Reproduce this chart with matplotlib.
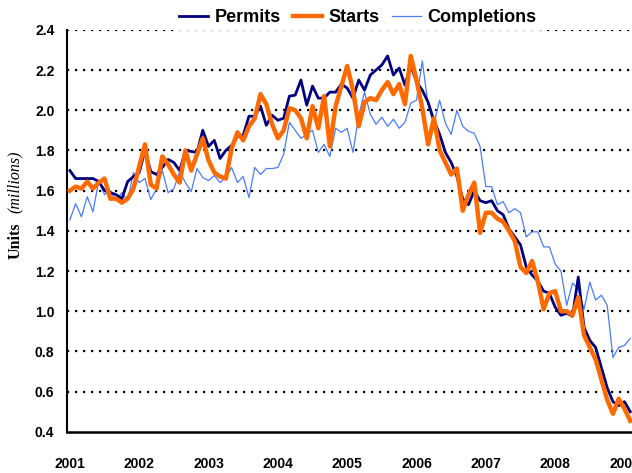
import matplotlib
matplotlib.use('Agg')
import matplotlib.pyplot as plt
import numpy as np

# monthly, Jan 2001 .. Feb 2009 (millions of units, SAAR)
permits = [1.70, 1.66, 1.66, 1.66, 1.66, 1.645, 1.60, 1.59, 1.58, 1.56, 1.645, 1.67,
           1.69, 1.80, 1.695, 1.68, 1.715, 1.755, 1.74, 1.70, 1.80, 1.795, 1.79, 1.90,
           1.82, 1.85, 1.76, 1.80, 1.825, 1.87, 1.875, 1.97, 1.97, 2.02, 1.925, 1.975,
           1.95, 1.96, 2.07, 2.075, 2.15, 2.025, 2.12, 2.06, 2.06, 2.09, 2.09, 2.13,
           2.11, 2.06, 2.15, 2.10, 2.175, 2.20, 2.225, 2.27, 2.175, 2.21, 2.125, 2.225,
           2.14, 2.10, 2.04, 1.95, 1.88, 1.79, 1.74, 1.67, 1.56, 1.53, 1.60, 1.55,
           1.54, 1.55, 1.50, 1.48, 1.41, 1.37, 1.33, 1.22, 1.18, 1.15, 1.10, 1.09,
           1.02, 0.98, 0.99, 0.975, 1.17, 0.92, 0.855, 0.82, 0.72, 0.62, 0.55, 0.53, 0.55, 0.50]

starts = [1.60, 1.62, 1.61, 1.645, 1.61, 1.64, 1.66, 1.56, 1.56, 1.54, 1.56, 1.61,
          1.72, 1.83, 1.63, 1.61, 1.77, 1.73, 1.68, 1.64, 1.80, 1.70, 1.78, 1.86,
          1.75, 1.69, 1.67, 1.66, 1.81, 1.89, 1.85, 1.92, 1.96, 2.08, 2.03, 1.93,
          1.86, 1.90, 2.01, 2.00, 1.96, 1.86, 2.02, 1.91, 2.07, 1.82, 2.02, 2.12,
          2.22, 2.10, 1.92, 2.04, 2.06, 2.05, 2.10, 2.14, 2.08, 2.13, 2.03, 2.27,
          2.15, 2.01, 1.83, 1.96, 1.80, 1.74, 1.68, 1.71, 1.50, 1.58, 1.64, 1.39,
          1.49, 1.49, 1.46, 1.445, 1.40, 1.35, 1.22, 1.19, 1.25, 1.15, 1.01, 1.09,
          1.10, 1.00, 1.00, 0.98, 1.07, 0.88, 0.82, 0.76, 0.66, 0.56, 0.49, 0.565, 0.515, 0.455]

completions = [1.455, 1.535, 1.47, 1.57, 1.495, 1.65, 1.58, 1.60, 1.55, 1.59, 1.55, 1.69,
               1.64, 1.66, 1.555, 1.61, 1.70, 1.59, 1.61, 1.695, 1.64, 1.595, 1.71, 1.665,
               1.65, 1.675, 1.64, 1.665, 1.715, 1.64, 1.67, 1.565, 1.715, 1.68, 1.71, 1.71,
               1.715, 1.78, 1.94, 1.90, 1.86, 1.88, 1.90, 1.79, 1.83, 1.77, 1.91, 1.89,
               1.91, 1.79, 1.975, 2.09, 1.98, 1.93, 1.965, 1.92, 1.955, 1.91, 1.94, 2.035,
               2.05, 2.245, 2.03, 1.93, 2.05, 1.935, 1.88, 2.00, 1.92, 1.895, 1.885, 1.82,
               1.62, 1.62, 1.53, 1.545, 1.49, 1.51, 1.49, 1.37, 1.395, 1.395, 1.32, 1.32,
               1.235, 1.20, 1.03, 1.14, 1.11, 1.01, 1.145, 1.055, 1.08, 1.03, 0.77, 0.82, 0.83, 0.865]

years = [2001, 2002, 2003, 2004, 2005, 2006, 2007, 2008, 2009]

t = 2001 + np.arange(len(permits)) / 12.0

fig = plt.figure(figsize=(6.32, 4.73), dpi=100)
ax = fig.add_axes([0.106, 0.087, 0.894, 0.85])

ax.plot(t, completions, color='#4a7bff', lw=0.9, label='Completions', zorder=2)
ax.plot(t, permits, color='#000080', lw=2.0, label='Permits', zorder=3)
ax.plot(t, starts, color='#ff6a00', lw=3.2, label='Starts', zorder=4)

ax.set_ylim(0.4, 2.4)
ax.set_xlim(2001 - 0.5 / 12, 2001 + 97.3 / 12)
ax.set_yticks(np.arange(0.4, 2.41, 0.2))
ax.set_yticklabels(['%.1f' % v for v in np.arange(0.4, 2.41, 0.2)])
ax.set_xticks(years)
ax.set_xticklabels([str(y) for y in years])

for v in np.arange(0.6, 2.41, 0.2):
    ax.axhline(v, color='black', lw=1.6, ls=(0, (1, 2.6)), zorder=1)

for lbl in ax.get_xticklabels() + ax.get_yticklabels():
    lbl.set_fontfamily('Liberation Sans')
    lbl.set_fontweight('bold')
    lbl.set_fontsize(10)
ax.tick_params(axis='both', length=0)
ax.tick_params(axis='x', pad=18)
ax.tick_params(axis='y', pad=9)

ax.spines['top'].set_visible(False)
ax.spines['right'].set_visible(False)
ax.spines['left'].set_linewidth(1.5)
ax.spines['bottom'].set_linewidth(1.8)

fig.text(0.024, 0.49, 'Units', rotation=90, ha='center', va='center',
         fontfamily='Liberation Serif', fontweight='bold', fontsize=11.5)
fig.text(0.024, 0.615, '(millions)', rotation=90, ha='center', va='center',
         fontfamily='Liberation Serif', fontstyle='italic', fontsize=11.5)

handles, labels = ax.get_legend_handles_labels()
order = [1, 2, 0]
leg = ax.legend([handles[i] for i in order], [labels[i] for i in order],
                loc='center', bbox_to_anchor=(0.515, 1.03), ncol=3, frameon=True,
                handlelength=1.6, handletextpad=0.35, columnspacing=0.7,
                prop={'family': 'Liberation Sans', 'weight': 'bold', 'size': 13},
                borderpad=0.2, fancybox=False)
leg.get_frame().set_edgecolor('white')
leg.get_frame().set_facecolor('white')
leg.set_zorder(10)

fig.savefig('out.png', dpi=100)
